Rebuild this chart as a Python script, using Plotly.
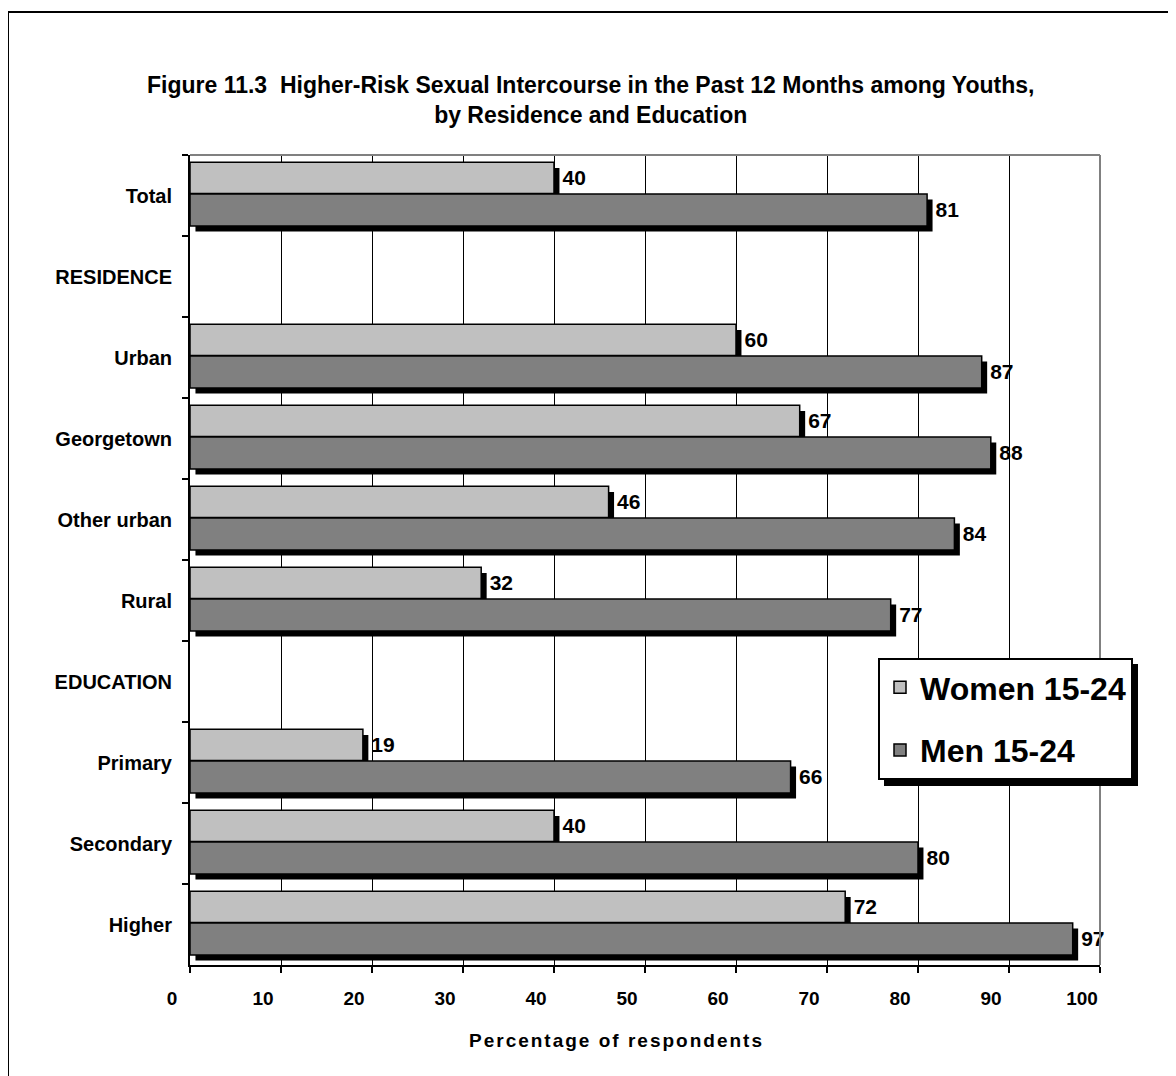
import plotly.graph_objects as go

categories = ["Total", "RESIDENCE", "Urban", "Georgetown", "Other urban", "Rural",
              "EDUCATION", "Primary", "Secondary", "Higher"]
women = [40, None, 60, 67, 46, 32, None, 19, 40, 72]
men = [81, None, 87, 88, 84, 77, None, 66, 80, 97]
x_ticks = [0, 10, 20, 30, 40, 50, 60, 70, 80, 90, 100]

title_text = ("<b>Figure 11.3  Higher-Risk Sexual Intercourse in the Past 12 Months among Youths,<br>"
              "by Residence and Education</b>")
x_title = "Percentage of respondents"

FONT = "Arial, 'Liberation Sans', sans-serif"
PAGE = 8                      # browser body margin
W_L, H_L = 1168, 1068
ML, MR, MT, MB = 182, 76, 147, 111
PW = W_L - ML - MR
PH = H_L - MT - MB

def sx(px):   # screen x pixel -> paper
    return (px - PAGE - ML) / PW

def sy(py):   # screen y pixel -> paper
    return (H_L - MB - (py - PAGE)) / PH

SHIFT_X = 0.6      # shadow horizontal offset (data units)
SHIFT_Y = 0.07     # shadow vertical offset (category units)
W_OFF, W_WID = -0.41, 0.385
M_OFF, M_WID = -0.02, 0.395

fig = go.Figure()

series = [
    ("Women 15-24", women, "#c0c0c0", W_OFF, W_WID),
    ("Men 15-24", men, "#808080", M_OFF, M_WID),
]

# shadows first (behind)
for name, vals, col, off, wid in series:
    fig.add_trace(go.Bar(
        y=categories, x=vals, base=SHIFT_X, orientation="h",
        offset=off + SHIFT_Y, width=wid,
        marker=dict(color="black", line=dict(width=0)),
        showlegend=False, hoverinfo="skip",
    ))

for i, (name, vals, col, off, wid) in enumerate(series):
    fig.add_trace(go.Bar(
        y=categories, x=vals, orientation="h", name=name,
        offset=off, width=wid, legendgroup=f"g{i}",
        marker=dict(color=col, line=dict(color="black", width=1.5)),
        hoverinfo="skip",
    ))

# label carriers (transparent bars ending at the shadow edge)
for name, vals, col, off, wid in series:
    fig.add_trace(go.Bar(
        y=categories, x=[None if v is None else v + SHIFT_X for v in vals],
        orientation="h", offset=off, width=wid,
        marker=dict(color="rgba(0,0,0,0)", line=dict(width=0)),
        text=[None if v is None else str(v) for v in vals],
        textposition="outside", constraintext="none", cliponaxis=False,
        textfont=dict(family=FONT, size=21, color="black", weight="bold"),
        showlegend=False, hoverinfo="skip",
    ))

fig.update_layout(
    width=W_L, height=H_L,
    margin=dict(l=ML, r=MR, t=MT, b=MB),
    paper_bgcolor="white", plot_bgcolor="white",
    barmode="overlay",
    font=dict(family=FONT, color="black"),
    showlegend=True,
    legend=dict(
        x=sx(878), y=sy(658), xanchor="left", yanchor="top",
        bgcolor="white", bordercolor="black", borderwidth=2,
        font=dict(family=FONT, size=32, color="black", weight="bold"),
        tracegroupgap=18, traceorder="grouped",
    ),
)

fig.update_xaxes(
    range=[0, 100], tickvals=x_ticks,
    showgrid=True, gridcolor="black", gridwidth=1,
    showline=True, linecolor="black", linewidth=2,
    ticks="outside", ticklen=6, tickwidth=2, tickcolor="black",
    tickfont=dict(family=FONT, size=19, color="black", weight="bold"),
    ticklabelstandoff=9, ticklabelshift=-18,
    zeroline=False,
)
fig.update_yaxes(
    type="category", categoryorder="array", categoryarray=categories,
    autorange="reversed",
    showgrid=False, showline=True, linecolor="black", linewidth=2,
    ticks="outside", ticklen=6, tickwidth=2, tickcolor="black",
    tickson="boundaries",
    tickfont=dict(family=FONT, size=20, color="black", weight="bold"),
    ticklabelstandoff=12,
)

# title
fig.add_annotation(
    text=title_text, xref="paper", yref="paper",
    x=sx(590), y=sy(100), xanchor="center", yanchor="middle",
    showarrow=False, align="center",
    font=dict(family=FONT, size=23, color="black"),
)

# x-axis title
fig.add_annotation(
    text=x_title, xref="paper", yref="paper",
    x=sx(616), y=sy(1040), xanchor="center", yanchor="middle",
    showarrow=False, align="center",
    font=dict(family=FONT, size=19, color="black", weight="bold"),
)

# gray top and right border of plot area
fig.add_shape(type="line", xref="paper", yref="paper", x0=0, x1=1, y0=1, y1=1,
              line=dict(color="#808080", width=2), layer="above")
fig.add_shape(type="line", xref="paper", yref="paper", x0=1, x1=1, y0=0, y1=1,
              line=dict(color="#808080", width=2), layer="above")

# legend shadow
fig.add_shape(type="rect", xref="paper", yref="paper",
              x0=sx(884), x1=sx(1138), y0=sy(786), y1=sy(664),
              fillcolor="black", line=dict(width=0), layer="above")

# outer frame
fig.add_shape(type="rect", xref="paper", yref="paper",
              x0=sx(8), x1=sx(1200), y0=sy(1100), y1=sy(12),
              line=dict(color="black", width=2), fillcolor="rgba(0,0,0,0)", layer="above")

post = """
var gd = document.getElementById('{plot_id}');
function spaceTitle() {
  gd.querySelectorAll('text').forEach(function (t) {
    if (t.textContent === 'Percentage of respondents') { t.style.letterSpacing = '2px'; }
  });
}
spaceTitle();
gd.on('plotly_afterplot', spaceTitle);
"""

fig.write_html("out.html", post_script=post)
